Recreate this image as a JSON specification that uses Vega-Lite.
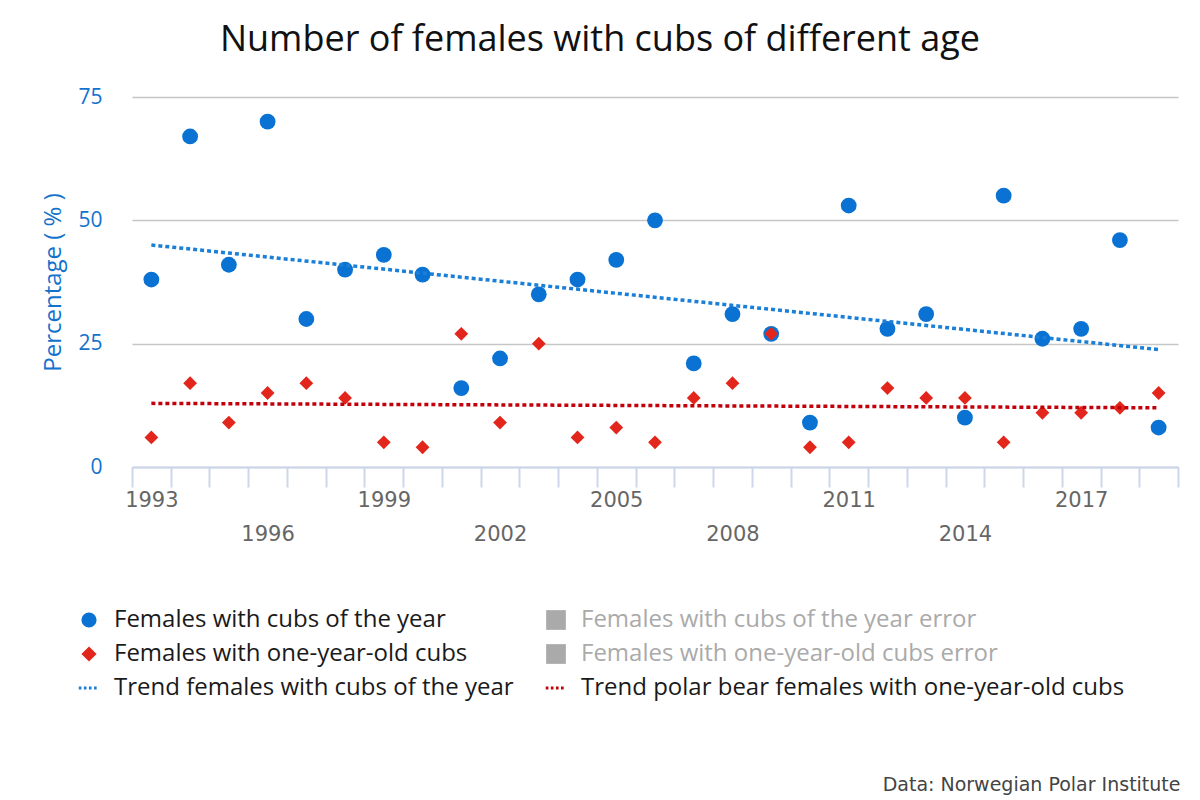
{
  "$schema": "https://vega.github.io/schema/vega-lite/v6.json",
  "width": 1046,
  "height": 370,
  "autosize": {"type": "none"},
  "padding": {"left": 132, "top": 97, "right": 22, "bottom": 333},
  "background": "white",
  "config": {"view": {"stroke": null}, "font": "Open Sans"},
  "title": {
    "text": "Number of females with cubs of different age",
    "font": "Open Sans",
    "fontSize": 36,
    "fontWeight": "normal",
    "color": "#111111",
    "anchor": "middle",
    "frame": "group",
    "dx": -55,
    "offset": 27
  },
  "datasets": {
    "points": [
      {"year": 1993, "series": "Females with cubs of the year", "pct": 38},
      {"year": 1994, "series": "Females with cubs of the year", "pct": 67},
      {"year": 1995, "series": "Females with cubs of the year", "pct": 41},
      {"year": 1996, "series": "Females with cubs of the year", "pct": 70},
      {"year": 1997, "series": "Females with cubs of the year", "pct": 30},
      {"year": 1998, "series": "Females with cubs of the year", "pct": 40},
      {"year": 1999, "series": "Females with cubs of the year", "pct": 43},
      {"year": 2000, "series": "Females with cubs of the year", "pct": 39},
      {"year": 2001, "series": "Females with cubs of the year", "pct": 16},
      {"year": 2002, "series": "Females with cubs of the year", "pct": 22},
      {"year": 2003, "series": "Females with cubs of the year", "pct": 35},
      {"year": 2004, "series": "Females with cubs of the year", "pct": 38},
      {"year": 2005, "series": "Females with cubs of the year", "pct": 42},
      {"year": 2006, "series": "Females with cubs of the year", "pct": 50},
      {"year": 2007, "series": "Females with cubs of the year", "pct": 21},
      {"year": 2008, "series": "Females with cubs of the year", "pct": 31},
      {"year": 2009, "series": "Females with cubs of the year", "pct": 27},
      {"year": 2010, "series": "Females with cubs of the year", "pct": 9},
      {"year": 2011, "series": "Females with cubs of the year", "pct": 53},
      {"year": 2012, "series": "Females with cubs of the year", "pct": 28},
      {"year": 2013, "series": "Females with cubs of the year", "pct": 31},
      {"year": 2014, "series": "Females with cubs of the year", "pct": 10},
      {"year": 2015, "series": "Females with cubs of the year", "pct": 55},
      {"year": 2016, "series": "Females with cubs of the year", "pct": 26},
      {"year": 2017, "series": "Females with cubs of the year", "pct": 28},
      {"year": 2018, "series": "Females with cubs of the year", "pct": 46},
      {"year": 2019, "series": "Females with cubs of the year", "pct": 8},
      {"year": 1993, "series": "Females with one-year-old cubs", "pct": 6},
      {"year": 1994, "series": "Females with one-year-old cubs", "pct": 17},
      {"year": 1995, "series": "Females with one-year-old cubs", "pct": 9},
      {"year": 1996, "series": "Females with one-year-old cubs", "pct": 15},
      {"year": 1997, "series": "Females with one-year-old cubs", "pct": 17},
      {"year": 1998, "series": "Females with one-year-old cubs", "pct": 14},
      {"year": 1999, "series": "Females with one-year-old cubs", "pct": 5},
      {"year": 2000, "series": "Females with one-year-old cubs", "pct": 4},
      {"year": 2001, "series": "Females with one-year-old cubs", "pct": 27},
      {"year": 2002, "series": "Females with one-year-old cubs", "pct": 9},
      {"year": 2003, "series": "Females with one-year-old cubs", "pct": 25},
      {"year": 2004, "series": "Females with one-year-old cubs", "pct": 6},
      {"year": 2005, "series": "Females with one-year-old cubs", "pct": 8},
      {"year": 2006, "series": "Females with one-year-old cubs", "pct": 5},
      {"year": 2007, "series": "Females with one-year-old cubs", "pct": 14},
      {"year": 2008, "series": "Females with one-year-old cubs", "pct": 17},
      {"year": 2009, "series": "Females with one-year-old cubs", "pct": 27},
      {"year": 2010, "series": "Females with one-year-old cubs", "pct": 4},
      {"year": 2011, "series": "Females with one-year-old cubs", "pct": 5},
      {"year": 2012, "series": "Females with one-year-old cubs", "pct": 16},
      {"year": 2013, "series": "Females with one-year-old cubs", "pct": 14},
      {"year": 2014, "series": "Females with one-year-old cubs", "pct": 14},
      {"year": 2015, "series": "Females with one-year-old cubs", "pct": 5},
      {"year": 2016, "series": "Females with one-year-old cubs", "pct": 11},
      {"year": 2017, "series": "Females with one-year-old cubs", "pct": 11},
      {"year": 2018, "series": "Females with one-year-old cubs", "pct": 12},
      {"year": 2019, "series": "Females with one-year-old cubs", "pct": 15}
    ],
    "trend": [
      {"year": 1993, "series": "Trend females with cubs of the year", "pct": 45},
      {"year": 2019, "series": "Trend females with cubs of the year", "pct": 23.8},
      {"year": 1993, "series": "Trend polar bear females with one-year-old cubs", "pct": 12.9},
      {"year": 2019, "series": "Trend polar bear females with one-year-old cubs", "pct": 12.0}
    ]
  },
  "layer": [
    {
      "data": {"name": "points"},
      "mark": {"type": "point", "filled": true, "opacity": 1},
      "encoding": {
        "x": {
          "field": "year",
          "type": "ordinal",
          "scale": {"type": "band", "paddingInner": 0, "paddingOuter": 0},
          "axis": {
            "orient": "bottom",
            "domainColor": "#ccd6eb",
            "domainWidth": 2,
            "tickColor": "#ccd6eb",
            "tickWidth": 2,
            "tickSize": 20,
            "tickBand": "extent",
            "labelAngle": 0,
            "labelColor": "#666666",
            "labelFont": "DejaVu Sans",
            "labelFontSize": 21,
            "labelPadding": 2,
            "labelBaseline": "top",
            "labelLineHeight": 34,
            "labelOverlap": false,
            "labelExpr": "(datum.value - 1993) % 3 != 0 ? '' : ((datum.value - 1993) % 6 == 0 ? datum.label : ['', datum.label])",
            "title": "Data: Norwegian Polar Institute",
            "titleFont": "DejaVu Sans",
            "titleFontSize": 19,
            "titleFontWeight": "normal",
            "titleColor": "#444444",
            "titleAlign": "right",
            "titleBaseline": "alphabetic",
            "titleX": 1048,
            "titleY": 323
          }
        },
        "y": {
          "field": "pct",
          "type": "quantitative",
          "scale": {"domain": [0, 75], "nice": false},
          "axis": {
            "values": [0, 25, 50, 75],
            "domain": false,
            "ticks": false,
            "grid": true,
            "gridColor": "#c6c6c6",
            "gridWidth": 1.5,
            "labelColor": "#1272cc",
            "labelFont": "Open Sans",
            "labelFontSize": 21,
            "labelPadding": 30,
            "title": "Percentage ( % )",
            "titleColor": "#1272cc",
            "titleFont": "Open Sans",
            "titleFontSize": 24,
            "titleFontWeight": "normal",
            "titlePadding": 12
          }
        },
        "color": {
          "field": "series",
          "type": "nominal",
          "scale": {
            "domain": [
              "Females with cubs of the year",
              "Females with one-year-old cubs",
              "Trend females with cubs of the year",
              "Females with cubs of the year error",
              "Females with one-year-old cubs error",
              "Trend polar bear females with one-year-old cubs"
            ],
            "range": ["#0a72d2", "#e2261c", "#1a7fd6", "#aaaaaa", "#aaaaaa", "#c2000b"]
          },
          "legend": {
            "title": null,
            "orient": "none",
            "legendX": -55,
            "legendY": 511,
            "columns": 2,
            "columnPadding": 30,
            "rowPadding": 10,
            "labelFont": "Open Sans",
            "labelFontSize": 24,
            "labelColor": {"expr": "indexof(datum.label, 'error') >= 0 ? '#aaaaaa' : '#1a1a1a'"},
            "labelOffset": 13,
            "labelLimit": 700,
            "symbolSize": 230,
            "symbolStrokeWidth": 0
          }
        },
        "shape": {
          "field": "series",
          "type": "nominal",
          "scale": {
            "domain": [
              "Females with cubs of the year",
              "Females with one-year-old cubs",
              "Trend females with cubs of the year",
              "Females with cubs of the year error",
              "Females with one-year-old cubs error",
              "Trend polar bear females with one-year-old cubs"
            ],
            "range": [
              "circle",
              "diamond",
              "M-1.35,-0.2H-1V0.2H-1.35Z M-0.68,-0.2H-0.33V0.2H-0.68Z M-0.01,-0.2H0.34V0.2H-0.01Z M0.66,-0.2H1.01V0.2H0.66Z",
              "M-1.3,-1.3H1.3V1.3H-1.3Z",
              "M-1.3,-1.3H1.3V1.3H-1.3Z",
              "M-1.35,-0.2H-1V0.2H-1.35Z M-0.68,-0.2H-0.33V0.2H-0.68Z M-0.01,-0.2H0.34V0.2H-0.01Z M0.66,-0.2H1.01V0.2H0.66Z"
            ]
          },
          "legend": {
            "title": null,
            "orient": "none",
            "legendX": -55,
            "legendY": 511,
            "columns": 2,
            "columnPadding": 30,
            "rowPadding": 10,
            "labelFont": "Open Sans",
            "labelFontSize": 24,
            "labelColor": {"expr": "indexof(datum.label, 'error') >= 0 ? '#aaaaaa' : '#1a1a1a'"},
            "labelOffset": 13,
            "labelLimit": 700,
            "symbolSize": 230,
            "symbolStrokeWidth": 0
          }
        },
        "size": {
          "condition": {"test": "datum.series === 'Females with one-year-old cubs'", "value": 190},
          "value": 250
        }
      }
    },
    {
      "data": {"name": "trend"},
      "mark": {"type": "line", "strokeDash": [4, 3], "strokeWidth": 3.5},
      "encoding": {
        "x": {"field": "year", "type": "ordinal"},
        "y": {"field": "pct", "type": "quantitative"},
        "color": {"field": "series", "type": "nominal", "legend": null}
      }
    }
  ]
}
